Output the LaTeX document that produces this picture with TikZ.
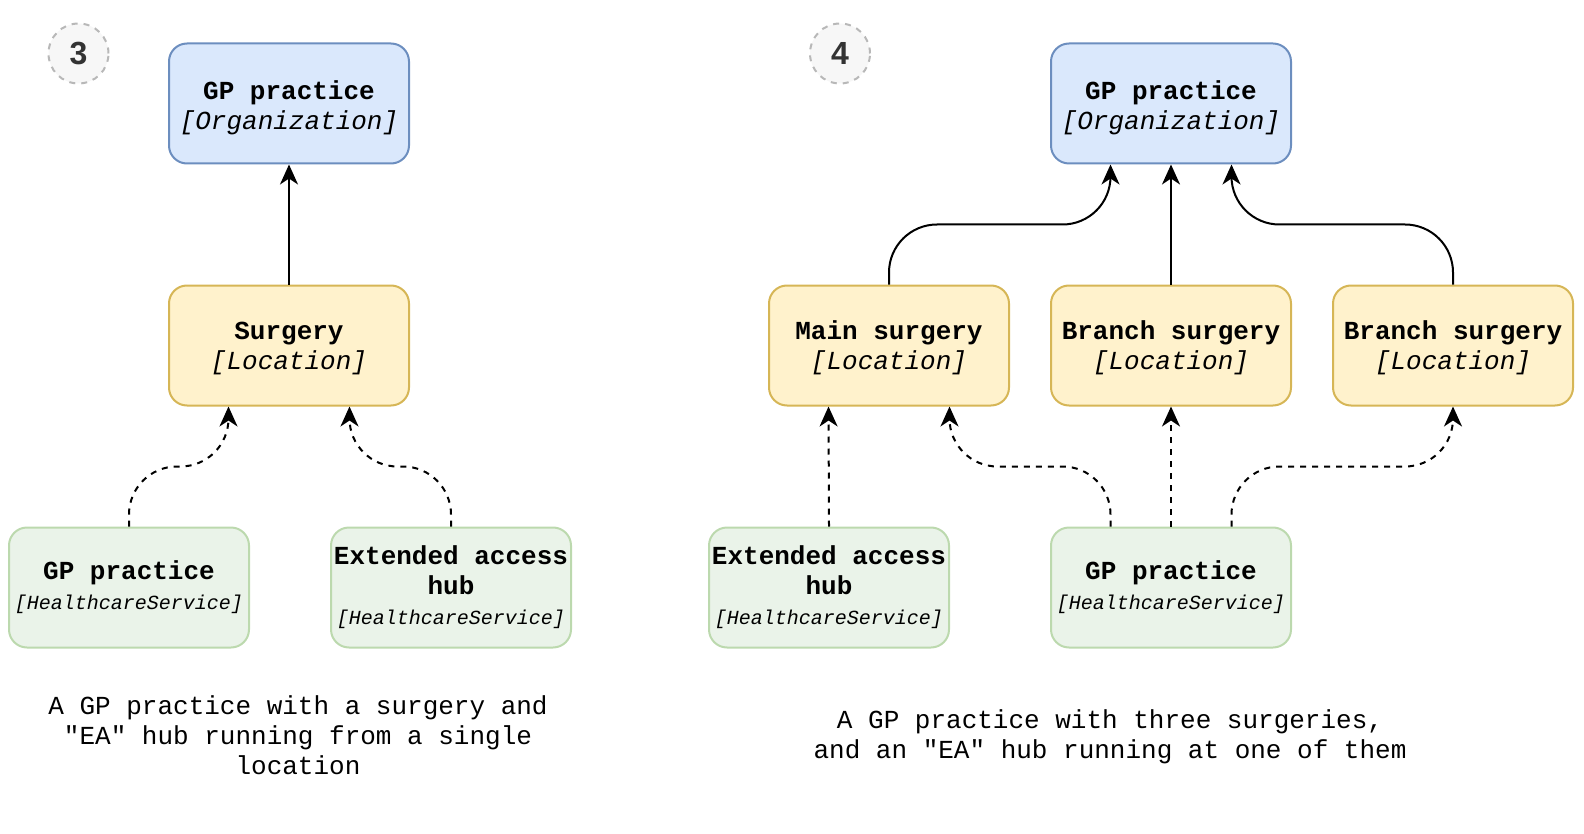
\documentclass[tikz,border=0pt]{standalone}
\usepackage{fontspec}
\setmainfont{Liberation Mono}[Ligatures=TeXOff]
\newfontfamily\badgefont{Liberation Sans}
\usetikzlibrary{positioning,calc,arrows.meta}

\definecolor{orgfill}{HTML}{DAE8FC}
\definecolor{orgline}{HTML}{6C8EBF}
\definecolor{locfill}{HTML}{FFF2CC}
\definecolor{locline}{HTML}{D6B656}
\definecolor{hsfill}{HTML}{EAF3E9}
\definecolor{hsline}{HTML}{BCD9AE}
\definecolor{badgefill}{HTML}{F7F7F7}
\definecolor{badgeline}{HTML}{B8B8B8}
\definecolor{badgetext}{HTML}{333333}

\newcommand{\tallstrut}[1][12pt]{\rule{0pt}{#1}}

\begin{document}
\begin{tikzpicture}[x=1pt,y=-1pt,node distance=60pt,
      box/.style={rectangle,draw,line width=1pt,rounded corners=9pt,minimum width=120pt,minimum height=60pt,
        inner sep=0pt,align=center,font=\fontsize{13}{15}\selectfont},
      org/.style={box,fill=orgfill,draw=orgline},
      loc/.style={box,fill=locfill,draw=locline},
      hs/.style={box,fill=hsfill,draw=hsline},
      badge/.style={circle,draw=badgeline,fill=badgefill,dashed,line width=1pt,minimum size=30pt,inner sep=0pt,
        text=badgetext,font=\badgefont\fontsize{16}{16}\selectfont\bfseries},
      caption/.style={align=center,inner sep=0pt,font=\fontsize{13}{15}\selectfont},
      arr/.style={-{Stealth[length=10pt,width=9pt,inset=3pt]},line width=1pt},
      dasharr/.style={arr,dash pattern=on 3pt off 3pt},
      elbow/.style={rounded corners=24pt}]
  \useasboundingbox (0,0) rectangle (792,417);

  % example 3
  \node[badge] (b3) at (39.25,26.75) {3};
  \node[org] (orgl) at (144.5,51.75) {\tallstrut[14pt]\textbf{GP practice}\\\textit{[Organization]}};
  \node[loc,below=of orgl] (surg) {\tallstrut\textbf{Surgery}\\\textit{[Location]}};
  \node[hs,below=of surg,xshift=-80pt] (gpl) {\textbf{GP practice}\\{\fontsize{10}{12}\selectfont\itshape [HealthcareService]}};
  \node[hs,right=40pt of gpl] (eal) {\textbf{Extended access}\\\textbf{hub}\\{\fontsize{10}{12}\selectfont\itshape [HealthcareService]}};
  \coordinate (s1) at ($(surg.south west)!.25!(surg.south east)$);
  \coordinate (s3) at ($(surg.south west)!.75!(surg.south east)$);
  \draw[arr] (surg) -- (orgl);
  \draw[dasharr,elbow] (gpl.north) -- ++(0,-30) -| (s1);
  \draw[dasharr,elbow] (eal.north) -- ++(0,-30) -| (s3);
  \node[caption] (capl) at (149,367.5) {A GP practice with a surgery and\\"EA" hub running from a single\\location};

  % example 4
  \node[badge] (b4) at (420,26.75) {4};
  \node[org] (orgr) at (585.5,51.75) {\tallstrut[14pt]\textbf{GP practice}\\\textit{[Organization]}};
  \node[loc,below=of orgr] (bs1) {\tallstrut\textbf{Branch surgery}\\\textit{[Location]}};
  \node[loc,left=20pt of bs1] (ms) {\tallstrut\textbf{Main surgery}\\\textit{[Location]}};
  \node[loc,right=20pt of bs1] (bs2) {\tallstrut\textbf{Branch surgery}\\\textit{[Location]}};
  \node[hs,below=of bs1] (gpr) {\textbf{GP practice}\\{\fontsize{10}{12}\selectfont\itshape [HealthcareService]}};
  \node[hs,left=50pt of gpr] (ear) {\textbf{Extended access}\\\textbf{hub}\\{\fontsize{10}{12}\selectfont\itshape [HealthcareService]}};
  \coordinate (o1) at ($(orgr.south west)!.25!(orgr.south east)$);
  \coordinate (o3) at ($(orgr.south west)!.75!(orgr.south east)$);
  \coordinate (m1) at ($(ms.south west)!.25!(ms.south east)$);
  \coordinate (m3) at ($(ms.south west)!.75!(ms.south east)$);
  \coordinate (g1) at ($(gpr.north west)!.25!(gpr.north east)$);
  \coordinate (g3) at ($(gpr.north west)!.75!(gpr.north east)$);
  \draw[arr,elbow] (ms.north) -- ++(0,-30) -| (o1);
  \draw[arr] (bs1) -- (orgr);
  \draw[arr,elbow] (bs2.north) -- ++(0,-30) -| (o3);
  \draw[dasharr] (ear.north) -- (m1);
  \draw[dasharr,elbow] (g1) -- ++(0,-30) -| (m3);
  \draw[dasharr] (gpr) -- (bs1);
  \draw[dasharr,elbow] (g3) -- ++(0,-30) -| (bs2.south);
  \node[caption] (capr) at (555,368.25) {A GP practice with three surgeries,\\and an "EA" hub running at one of them};
\end{tikzpicture}
\end{document}
